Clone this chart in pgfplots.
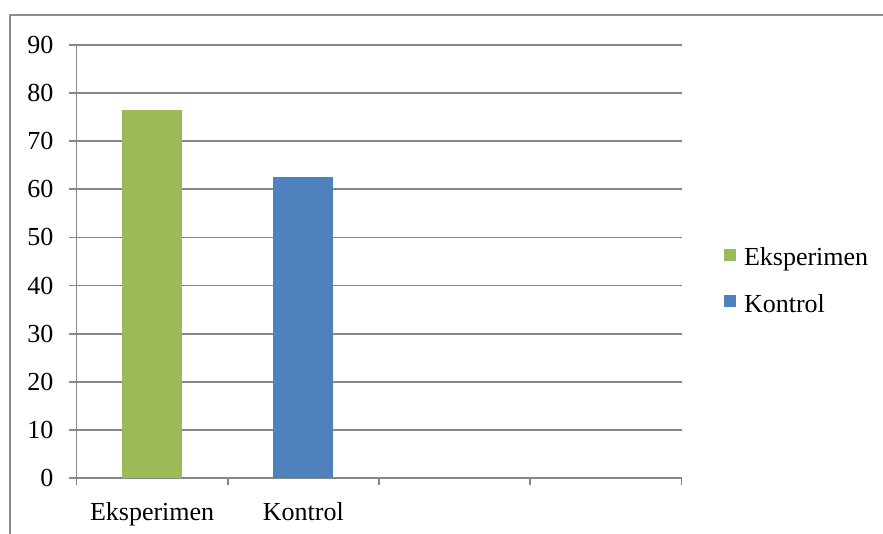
\documentclass[border=0pt]{standalone}
\usepackage{fontspec}
\setmainfont{Liberation Serif}
\usepackage{pgfplots}
\pgfplotsset{compat=1.18}
\definecolor{barGreen}{HTML}{9BBB59}
\definecolor{barBlue}{HTML}{4F81BD}
\definecolor{axGray}{HTML}{868686}
\definecolor{frameGray}{HTML}{8C8C8C}
\newcommand\chartfont{\fontsize{26}{31}\selectfont}

\begin{document}
\begin{tikzpicture}[x=1pt,y=1pt]
\useasboundingbox (0,0) rectangle (883,534);
\clip (0,0) rectangle (883,534);
% outer chart frame
\draw[frameGray, line width=2pt] (10,519) rectangle (920,-30);
\begin{axis}[
  at={(76.5pt,56pt)}, anchor=south west,
  scale only axis, width=605pt, height=433pt,
  xmin=-0.5, xmax=3.5, ymin=0, ymax=90,
  ytick={0,10,...,90},
  /pgf/number format/assume math mode=true,
  ymajorgrids, grid style={axGray, line width=1.8pt},
  axis x line*=bottom, axis y line*=left,
  axis line style={axGray, line width=1.8pt},
  tick style={axGray, line width=1.8pt},
  major tick length=7pt, tick align=outside,
  xtick={-0.5,0.5,1.5,2.5,3.5}, xticklabels={},
  extra x ticks={0,1}, extra x tick labels={Eksperimen,Kontrol},
  extra x tick style={major tick length=0pt,
    xticklabel style={inner sep=0pt, anchor=north, yshift=-24pt}},
  yticklabel style={inner sep=0pt, anchor=east, xshift=-16pt},
  ticklabel style={font=\chartfont},
  ybar, bar width=60pt,
  legend style={at={(1.065,0.455)}, anchor=west, draw=none, fill=none,
    font=\chartfont, column sep=8pt, row sep=27pt,
    nodes={inner sep=0pt}},
  legend cell align=left,
  legend image code/.code={\fill[#1] (0pt,-3pt) rectangle (12pt,9pt);},
]
\addplot[fill=barGreen, draw=none, bar shift=0pt] coordinates {(0,76.5)};
\addplot[fill=barBlue, draw=none, bar shift=0pt] coordinates {(1,62.5)};
\legend{Eksperimen,Kontrol}
\end{axis}
\end{tikzpicture}
\end{document}
